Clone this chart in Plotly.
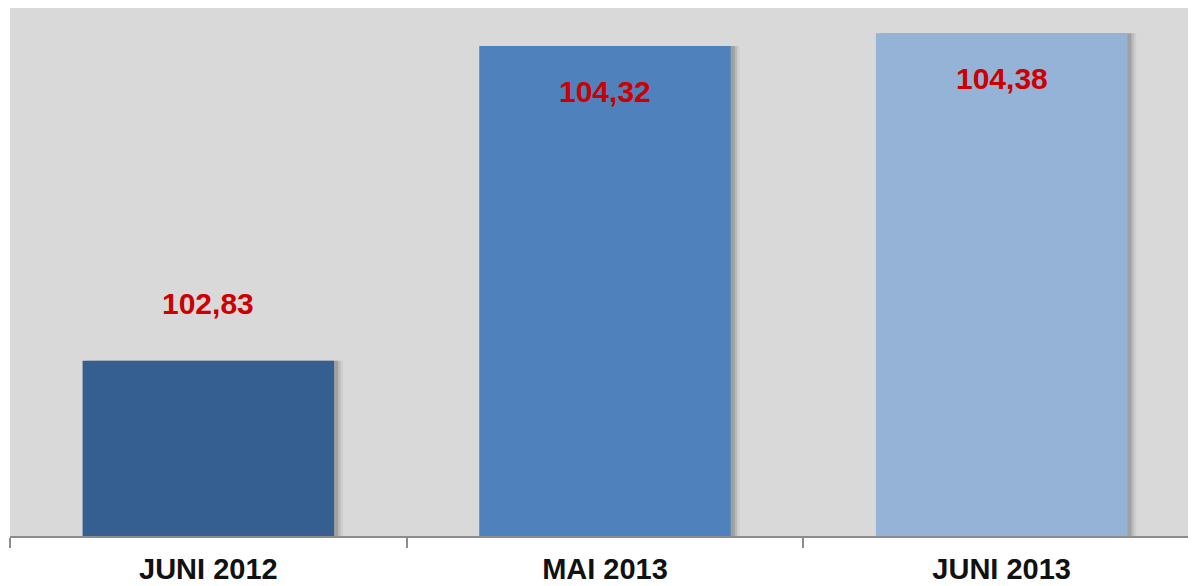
import plotly.graph_objects as go

categories = ["JUNI 2012", "MAI 2013", "JUNI 2013"]
values = [102.83, 104.32, 104.38]
bar_colors = ["#365F91", "#4F81BD", "#95B3D7"]
label_shift = [57, -45, -45]  # pixel offset of value labels from bar tops

y_min, y_max = 102.0, 104.5
bar_w = 0.634

fig = go.Figure()

heights = [v - y_min for v in values]

# soft drop shadows (same data, shifted right)
for dx, alpha in [(0.022, 0.08), (0.016, 0.13), (0.010, 0.20)]:
    fig.add_trace(go.Bar(
        x=categories, y=heights, base=y_min, width=bar_w,
        offset=-bar_w / 2 + dx,
        marker=dict(color=f"rgba(60,60,60,{alpha})", line=dict(width=0)),
        hoverinfo="skip", showlegend=False,
    ))

fig.add_trace(go.Bar(
    x=categories, y=heights, base=y_min, width=bar_w,
    offset=-bar_w / 2,
    marker=dict(color=bar_colors, line=dict(width=0)),
    showlegend=False,
))

for c, v, s in zip(categories, values, label_shift):
    fig.add_annotation(
        x=c, y=v, yshift=s, showarrow=False,
        text=f"{v:.2f}".replace(".", ","),
        font=dict(family="Liberation Sans, Arial", size=30, color="#CC0000", weight="bold"),
    )

fig.update_layout(
    width=1196, height=586,
    margin=dict(l=2, r=4, t=0, b=58),
    paper_bgcolor="white",
    plot_bgcolor="#D9D9D9",
    barmode="overlay",
    font=dict(family="Liberation Sans, Arial", color="#111111"),
    xaxis=dict(
        type="category", range=[-0.5, 2.5],
        showline=True, linecolor="#8C8C8C", linewidth=1.5,
        ticks="outside", tickson="boundaries", ticklen=10, tickcolor="#8C8C8C", tickwidth=1.5,
        tickfont=dict(size=29, color="#111111", weight="bold"),
        ticklabelstandoff=6,
        showgrid=False,
    ),
    yaxis=dict(range=[y_min, y_max], visible=False, showgrid=False),
)

fig.write_html("out.html")
